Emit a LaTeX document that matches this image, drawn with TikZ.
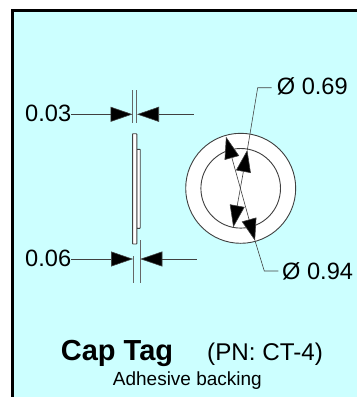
\documentclass[tikz,border=0pt]{standalone}
\usepackage{fontspec}
\setmainfont{Liberation Sans}
\usetikzlibrary{arrows.meta}
\definecolor{bgc}{HTML}{CCFFFF}
\definecolor{linec}{HTML}{404040}
\tikzset{
  x=1pt,y=-1pt,
  dimline/.style={draw=linec,line width=0.6pt},
  extline/.style={draw=linec!80,line width=0.7pt},
  part/.style={draw=linec,fill=white,line width=0.9pt},
  tip/.style={-{Triangle[length=22pt,width=15pt,fill=black]}},
  tips/.style={{Triangle[length=22pt,width=15pt,fill=black]}-{Triangle[length=22pt,width=15pt,fill=black]}},
  lab/.style={inner sep=0pt,text=black,font=\fontsize{23.6}{26}\selectfont,anchor=base west},
}
\begin{document}
\begin{tikzpicture}
\useasboundingbox (0,0) rectangle (357,397);
\fill[white] (0,0) rectangle (357,397);
\fill[bgc] (12.5,10.5) rectangle (357,397);
\draw[black,line width=3pt] (12.5,397) -- (12.5,10.5) -- (357,10.5);
% side view
\draw[part,rounded corners=0.5pt] (136.7,149.3) rectangle (140.2,228.3);
\draw[part,rounded corners=0.5pt] (132.6,133.7) rectangle (136.8,244);
% face view
\node[part,circle,minimum size=110pt,inner sep=0pt] (outer) at (240.7,188.3) {};
\node[part,circle,minimum size=79.6pt,inner sep=0pt] (inner) at (240.7,188.3) {};
% top dimension
\node[lab] (a) at (25,121.5) {0.03};
\coordinate (a1) at (132.5,114.3);
\coordinate (a2) at (137,114.3);
\coordinate (a3) at (193.7,114.3);
\coordinate (e1t) at (132.5,90); \coordinate (e1b) at (132.5,123.3);
\coordinate (e2t) at (136.5,90); \coordinate (e2b) at (136.5,123.3);
\draw[extline] (e1t) -- (e1b);
\draw[extline] (e2t) -- (e2b);
\draw[dimline,tip] (a.east |- a1) -- (a1);
\draw[dimline,tip] (a3) -- (a2);
% bottom dimension
\node[lab] (b) at (25,266.5) {0.06};
\coordinate (b1) at (133,259);
\coordinate (b2) at (140.3,259);
\coordinate (b3) at (196.7,259);
\coordinate (f1t) at (133,256); \coordinate (f1b) at (133,282.7);
\coordinate (f2t) at (140,240); \coordinate (f2b) at (140,282.7);
\draw[extline] (f1t) -- (f1b);
\draw[extline] (f2t) -- (f2b);
\draw[dimline,tip] (b.east |- b1) -- (b1);
\draw[dimline,tip] (b3) -- (b2);
% leaders
\node[lab] (c) at (276.7,94.5) {Ø 0.69};
\node[lab] (d) at (282,279) {Ø 0.94};
\coordinate (ck) at (257.7,87.7);
\coordinate (ce) at (271.7,87.7);
\coordinate (cu) at (247.3,150);
\coordinate (cl) at (233.3,227.3);
\coordinate (dk) at (264.3,271);
\coordinate (de) at (278.3,271);
\coordinate (du) at (226,136.7);
\coordinate (dl) at (255,240.7);
\draw[dimline] (ce) -- (ck) -- (cu);
\draw[dimline,tips] (cu) -- (cl);
\draw[dimline] (de) -- (dk) -- (dl);
\draw[dimline,tips] (dl) -- (du);
% title
\node[inner sep=0pt,anchor=base west,font=\fontsize{29}{30}\selectfont\bfseries] (t) at (60.7,360) {Cap Tag};
\node[inner sep=0pt,anchor=base west,font=\fontsize{24.2}{26}\selectfont] (p) at (207,360) {(PN: CT-4)};
\node[inner sep=0pt,anchor=base west,font=\fontsize{19}{21}\selectfont] (s) at (112.7,385.5) {Adhesive backing};
\end{tikzpicture}
\end{document}
